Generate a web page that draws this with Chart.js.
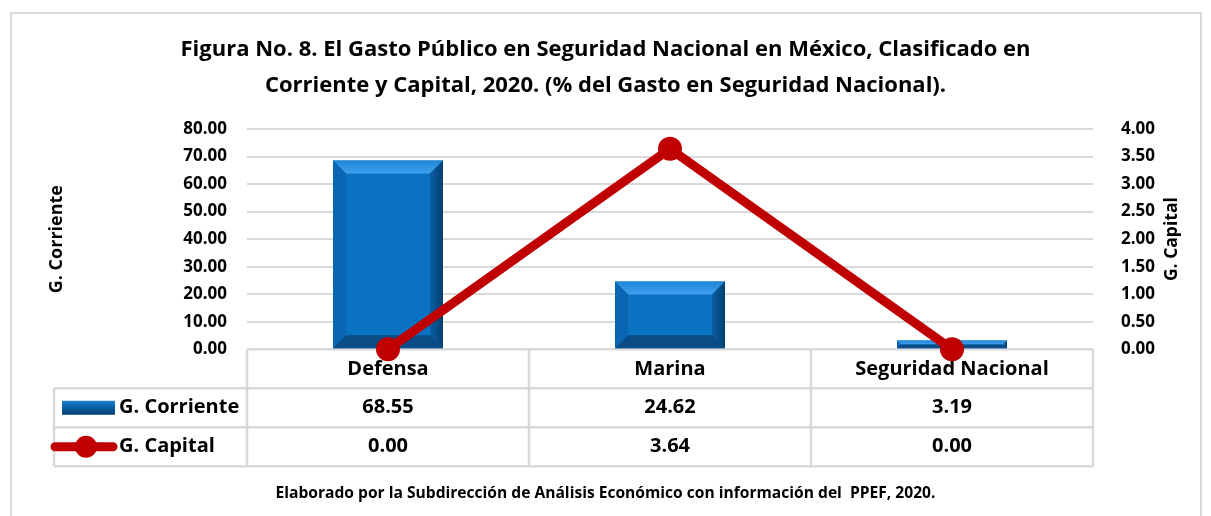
<!DOCTYPE html>
<html lang="es">
<head>
<meta charset="utf-8">
<title>Gasto Público en Seguridad Nacional 2020</title>
<script src="https://cdn.jsdelivr.net/npm/chart.js@4.4.1/dist/chart.umd.min.js"></script>
<style>
  html, body { margin: 0; padding: 0; background: #fff; }
  #wrap { position: relative; width: 1211px; height: 516px; overflow: hidden; }
  #frame {
    position: absolute; left: 10px; top: 12px; width: 1192px; height: 600px;
    border: 2px solid #d9d9d9; box-sizing: border-box; pointer-events: none;
  }
  canvas { position: absolute; left: 0; top: 0; }
</style>
</head>
<body>
<div id="wrap">
  <canvas id="gastoChart" width="1211" height="516"></canvas>
  <div id="frame"></div>
</div>
<script>
// Data
const categories = ["Defensa", "Marina", "Seguridad Nacional"];
const gastoCorriente = [68.55, 24.62, 3.19];
const gastoCapital = [0.0, 3.64, 0.0];
const seriesNames = ["G. Corriente", "G. Capital"];

const titleLines = [
  "Figura No. 8. El Gasto Público en Seguridad Nacional en México, Clasificado en",
  "Corriente y Capital, 2020. (% del Gasto en Seguridad Nacional).",
];
const footerText =
  "Elaborado por la Subdirección de Análisis Económico con información del  PPEF, 2020.";

const FONT = "'Open Sans', Lato, sans-serif";
const GRID = "#d9d9d9";
const BLUE = "#0a72c2";
const RED = "#c00000";

// Table rows under the plot (header row + 2 data rows)
const ROW_H = 39;
const TABLE_LEFT = 54;

// Bevel effect for the bars (like the Office 3D bar style)
const bevelPlugin = {
  id: "bevel",
  afterDatasetDraw(chart, args) {
    if (args.index !== 0) return;
    const ctx = chart.ctx;
    const meta = args.meta;
    meta.data.forEach((bar) => {
      const l = bar.x - bar.width / 2;
      const r = bar.x + bar.width / 2;
      const t = Math.min(bar.y, bar.base);
      const btm = Math.max(bar.y, bar.base);
      const b = Math.min(13, (btm - t) / 2, bar.width / 2);
      ctx.save();
      // top
      const g = ctx.createLinearGradient(0, t, 0, t + b);
      g.addColorStop(0, "#1f86d8");
      g.addColorStop(1, "#3fa0ee");
      ctx.fillStyle = g;
      ctx.beginPath();
      ctx.moveTo(l, t); ctx.lineTo(r, t); ctx.lineTo(r - b, t + b); ctx.lineTo(l + b, t + b);
      ctx.closePath(); ctx.fill();
      // left
      ctx.fillStyle = "#0866b3";
      ctx.beginPath();
      ctx.moveTo(l, t); ctx.lineTo(l + b, t + b); ctx.lineTo(l + b, btm - b); ctx.lineTo(l, btm);
      ctx.closePath(); ctx.fill();
      // right
      const gr = ctx.createLinearGradient(r - b, 0, r, 0);
      gr.addColorStop(0, "#0a5ea3");
      gr.addColorStop(1, "#053f73");
      ctx.fillStyle = gr;
      ctx.beginPath();
      ctx.moveTo(r, t); ctx.lineTo(r, btm); ctx.lineTo(r - b, btm - b); ctx.lineTo(r - b, t + b);
      ctx.closePath(); ctx.fill();
      // bottom
      ctx.fillStyle = "#0a4c85";
      ctx.beginPath();
      ctx.moveTo(l, btm); ctx.lineTo(r, btm); ctx.lineTo(r - b, btm - b); ctx.lineTo(l + b, btm - b);
      ctx.closePath(); ctx.fill();
      ctx.restore();
    });
  },
};

// Data table below the plot, lines drawn before the datasets
const dataTablePlugin = {
  id: "dataTable",
  beforeDatasetsDraw(chart) {
    const ctx = chart.ctx;
    const area = chart.chartArea;
    const colW = (area.right - area.left) / categories.length;
    const top = area.bottom;
    const bottom = top + ROW_H * 3;
    ctx.save();
    ctx.strokeStyle = GRID;
    ctx.lineWidth = 2.5;
    ctx.beginPath();
    // horizontal lines
    ctx.moveTo(area.left, top); ctx.lineTo(area.right, top);
    for (let i = 1; i <= 3; i++) {
      ctx.moveTo(TABLE_LEFT, top + ROW_H * i);
      ctx.lineTo(area.right, top + ROW_H * i);
    }
    // vertical lines
    ctx.moveTo(TABLE_LEFT, top + ROW_H); ctx.lineTo(TABLE_LEFT, bottom);
    for (let i = 0; i <= categories.length; i++) {
      const px = area.left + colW * i;
      ctx.moveTo(px, top); ctx.lineTo(px, bottom);
    }
    ctx.stroke();
    ctx.restore();
  },
  afterDraw(chart) {
    const ctx = chart.ctx;
    const area = chart.chartArea;
    const x = chart.scales.x;
    const top = area.bottom;
    ctx.save();
    ctx.fillStyle = "#000";
    ctx.font = "bold 20px " + FONT;
    ctx.textBaseline = "middle";
    const rows = [gastoCorriente, gastoCapital];
    rows.forEach((vals, r) => {
      const cy = top + ROW_H * (r + 1.5);
      ctx.textAlign = "center";
      vals.forEach((v, i) => {
        ctx.fillText(v.toFixed(2), x.getPixelForValue(i), cy);
      });
      ctx.textAlign = "left";
      ctx.fillText(seriesNames[r], 119, cy);
    });

    // legend keys
    const cy1 = top + ROW_H * 1.5;
    const cy2 = top + ROW_H * 2.5;
    const g = ctx.createLinearGradient(0, cy1 - 7, 0, cy1 + 7);
    g.addColorStop(0, "#1f7fcc");
    g.addColorStop(0.5, "#0a5ea3");
    g.addColorStop(1, "#0a3f70");
    ctx.fillStyle = g;
    ctx.fillRect(62, cy1 - 7, 53, 14);
    ctx.strokeStyle = RED;
    ctx.lineWidth = 9;
    ctx.lineCap = "round";
    ctx.beginPath();
    ctx.moveTo(55, cy2); ctx.lineTo(113, cy2);
    ctx.stroke();
    ctx.fillStyle = RED;
    ctx.beginPath();
    ctx.arc(86, cy2, 11, 0, Math.PI * 2);
    ctx.fill();

    // right axis title, reading bottom to top
    const y1 = chart.scales.y1;
    ctx.fillStyle = "#000";
    ctx.font = "bold 17.5px " + FONT;
    ctx.textAlign = "center";
    ctx.translate(1172, (y1.top + y1.bottom) / 2);
    ctx.rotate(-Math.PI / 2);
    ctx.fillText("G. Capital", 0, 0);
    ctx.restore();
  },
};

function renderGastoChart() {
  const ctx = document.getElementById("gastoChart").getContext("2d");
  new Chart(ctx, {
    type: "bar",
    data: {
      labels: categories,
      datasets: [
        {
          label: seriesNames[0],
          data: gastoCorriente,
          backgroundColor: BLUE,
          borderWidth: 0,
          barPercentage: 0.39,
          categoryPercentage: 1,
          yAxisID: "y",
          order: 2,
        },
        {
          type: "line",
          label: seriesNames[1],
          data: gastoCapital,
          borderColor: RED,
          borderWidth: 9,
          pointRadius: 12,
          pointBackgroundColor: RED,
          pointBorderWidth: 0,
          tension: 0,
          clip: false,
          yAxisID: "y1",
          order: 1,
        },
      ],
    },
    options: {
      responsive: false,
      animation: false,
      events: [],
      layout: { padding: 0 },
      plugins: {
        legend: { display: false },
        tooltip: { enabled: false },
        title: {
          display: true,
          text: titleLines,
          color: "#000",
          font: { family: FONT, size: 22, weight: "bold", lineHeight: 1.636 },
          padding: { top: 32, bottom: 25 },
        },
        subtitle: {
          display: true,
          position: "bottom",
          text: footerText,
          color: "#000",
          font: { family: FONT, size: 15.6, weight: "bold", lineHeight: 1.2 },
          padding: { top: 10, bottom: 13 },
        },
      },
      scales: {
        x: {
          grid: { display: false },
          border: { display: false },
          ticks: {
            color: "#000",
            font: { family: FONT, size: 20, weight: "bold" },
            padding: 0,
          },
          afterFit: (s) => { s.height = 125; },
        },
        y: {
          position: "left",
          min: 0,
          max: 80,
          grid: { color: GRID, lineWidth: 2, drawTicks: false },
          border: { display: false },
          ticks: {
            stepSize: 10,
            color: "#000",
            padding: 20,
            font: { family: FONT, size: 17, weight: "bold" },
            callback: (v) => v.toFixed(2),
          },
          title: {
            display: true,
            text: seriesNames[0],
            color: "#000",
            font: { family: FONT, size: 18, weight: "bold" },
            padding: { top: 46 },
          },
          afterFit: (s) => { s.width = 247; },
        },
        y1: {
          position: "right",
          min: 0,
          max: 4,
          grid: { display: false },
          border: { display: false },
          ticks: {
            stepSize: 0.5,
            color: "#000",
            padding: 20,
            font: { family: FONT, size: 17, weight: "bold" },
            callback: (v) => v.toFixed(2),
          },
          afterFit: (s) => { s.width = 118; },
        },
      },
    },
    plugins: [dataTablePlugin, bevelPlugin],
  });
}

renderGastoChart();
</script>
</body>
</html>
